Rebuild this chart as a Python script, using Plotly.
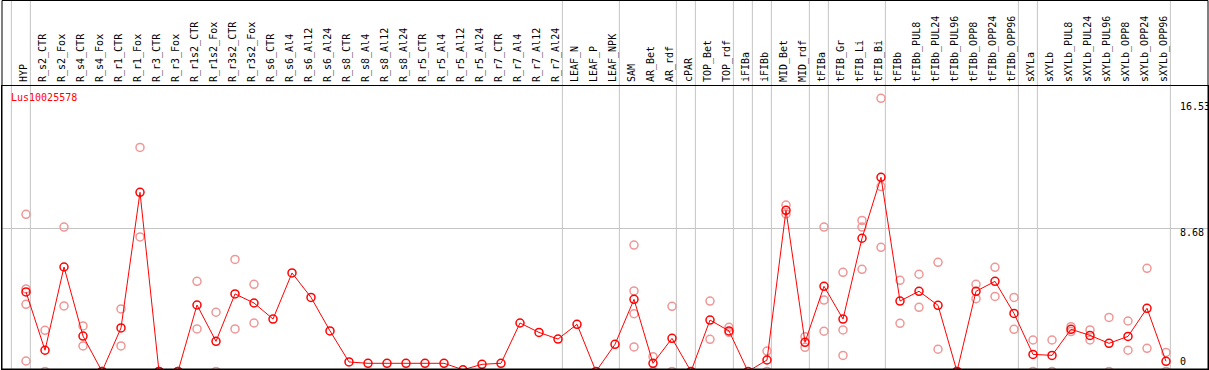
import plotly.graph_objects as go

title = "Lus10025578"

groups = [
    ["HYP"],
    ["R_s2_CTR", "R_s2_Fox", "R_s4_CTR", "R_s4_Fox", "R_r1_CTR", "R_r1_Fox",
     "R_r3_CTR", "R_r3_Fox", "R_r1s2_CTR", "R_r1s2_Fox", "R_r3s2_CTR", "R_r3s2_Fox",
     "R_s6_CTR", "R_s6_Al4", "R_s6_Al12", "R_s6_Al24", "R_s8_CTR", "R_s8_Al4",
     "R_s8_Al12", "R_s8_Al24", "R_r5_CTR", "R_r5_Al4", "R_r5_Al12", "R_r5_Al24",
     "R_r7_CTR", "R_r7_Al4", "R_r7_Al12", "R_r7_Al24"],
    ["LEAF_N", "LEAF_P", "LEAF_NPK"],
    ["SAM", "AR_Bet", "AR_rdf"],
    ["cPAR"],
    ["TOP_Bet", "TOP_rdf"],
    ["iFIBa"],
    ["iFIBb"],
    ["MID_Bet", "MID_rdf"],
    ["tFIBa"],
    ["tFIB_Gr", "tFIB_Li", "tFIB_Bi"],
    ["tFIBb", "tFIBb_PUL8", "tFIBb_PUL24", "tFIBb_PUL96", "tFIBb_OPP8", "tFIBb_OPP24", "tFIBb_OPP96"],
    ["sXYLa"],
    ["sXYLb", "sXYLb_PUL8", "sXYLb_PUL24", "sXYLb_PUL96", "sXYLb_OPP8", "sXYLb_OPP24", "sXYLb_OPP96"],
]
categories = [c for g in groups for c in g]

means = [
    4.81, 1.28, 6.32, 2.14, 0.0, 2.63, 10.84, 0.0, 0.0, 4.02, 1.82, 4.69, 4.14,
    3.17, 5.96, 4.48, 2.45, 0.57, 0.49, 0.49, 0.49, 0.49, 0.49, 0.1, 0.43,
    0.49, 2.93, 2.36, 1.96,
    2.85, 0.0, 1.64,
    4.36, 0.49, 2.00,
    0.0,
    3.11, 2.45,
    0.0,
    0.69,
    9.75, 1.76,
    5.15,
    3.17, 8.06, 11.75,
    4.26, 4.85, 4.00, 0.0, 4.85, 5.45, 3.51,
    1.03,
    0.97, 2.55, 2.18, 1.70, 2.12, 3.82, 0.61,
]

replicates = [
    [9.51, 4.99, 4.06, 0.63], [2.49, 0.0], [8.74, 3.96], [2.75, 1.54], [0.0, 0.0],
    [3.78, 1.54], [13.56, 8.14], [0.0, 0.0], [0.0, 0.0], [5.45, 2.57], [3.58, 0.0],
    [6.78, 2.57], [5.27, 2.93],
    [], [], [], [], [], [], [], [], [], [], [], [], [], [], [], [],
    [], [], [],
    [7.65, 4.87, 3.49, 1.48], [0.89, 0.0], [3.94, 0.0],
    [],
    [4.26, 1.94], [2.67, 2.36],
    [],
    [1.23, 0.0],
    [10.07, 9.53], [2.10, 1.46],
    [8.74, 4.32, 2.43],
    [6.00, 2.51, 0.97], [9.14, 8.74, 6.18], [16.53, 11.19, 7.51],
    [5.51, 2.91], [5.88, 3.88], [6.60, 1.34], [0.0, 0.0], [5.27, 4.40], [6.30, 4.54], [4.48, 2.55],
    [1.90, 0.0],
    [1.90, 0.0], [2.71, 2.41], [2.51, 1.90], [3.27, 0.0], [3.05, 1.28], [6.24, 1.40], [1.15, 0.0],
]

y_ticks = [0, 8.68, 16.53]

# ---------------- layout constants ----------------
W, H = 1209, 370
ML, MR, MT, MB = 2, 1, 86, 1
plot_w = W - ML - MR
plot_h = H - MT - MB
px_per_cat = 19.0
first_px = 26.0
x0 = -(first_px - ML) / px_per_cat
x1 = x0 + plot_w / px_per_cat
px_per_unit = 16.52
zero_px = 371.4
y_lo = (zero_px - (H - MB)) / px_per_unit
y_hi = (zero_px - MT) / px_per_unit
top_paper = 1 + (MT - 0.5) / plot_h
label_x = (1179 - first_px) / px_per_cat

RED = "#FF0000"
PINK = "rgb(240,150,150)"
GRAY = "#C4C4C4"
FONT = "DejaVu Sans Mono"

xs = list(range(len(categories)))
rx, ry = [], []
for i, reps in enumerate(replicates):
    for v in reps:
        rx.append(i)
        ry.append(v)

fig = go.Figure()
fig.add_trace(go.Scatter(
    x=rx, y=ry, mode="markers",
    marker=dict(symbol="circle-open", size=8, color=PINK, line=dict(width=1.5, color=PINK)),
    showlegend=False, hoverinfo="skip",
))
fig.add_trace(go.Scatter(
    x=xs, y=means, mode="lines+markers",
    line=dict(color=RED, width=1),
    marker=dict(symbol="circle-open", size=8, color=RED, line=dict(width=1.5, color=RED)),
    showlegend=False,
))

# group separator lines
shapes = []
boundaries = [-1]
idx = -1
for g in groups:
    idx += len(g)
    boundaries.append(idx)
for b in boundaries:
    shapes.append(dict(type="line", xref="x", yref="paper", x0=b + 0.23, x1=b + 0.23,
                       y0=0, y1=top_paper + 0.01, line=dict(color=GRAY, width=1), layer="below"))
# outer box
shapes.append(dict(type="rect", xref="paper", yref="paper", x0=0, x1=1, y0=0, y1=top_paper,
                   line=dict(color="black", width=1), fillcolor="rgba(0,0,0,0)"))

annotations = [
    dict(text=title, xref="paper", yref="paper", x=0, y=1, xanchor="left", yanchor="top",
         xshift=7, yshift=-4, showarrow=False, font=dict(family=FONT, size=10, color=RED)),
    dict(text=f"{y_ticks[2]:.2f}", xref="x", yref="y", x=label_x, y=y_ticks[2], xanchor="left",
         yanchor="middle", yshift=-8, showarrow=False, borderpad=0,
         font=dict(family=FONT, size=10, color="black")),
    dict(text=f"{y_ticks[1]:.2f}", xref="x", yref="y", x=label_x, y=y_ticks[1], xanchor="left",
         yanchor="middle", yshift=-4, showarrow=False, borderpad=0,
         font=dict(family=FONT, size=10, color="black")),
    dict(text=f"{y_ticks[0]}", xref="x", yref="paper", x=label_x, y=0, xanchor="left",
         yanchor="bottom", yshift=1, showarrow=False, borderpad=0,
         font=dict(family=FONT, size=10, color="black")),
]

fig.update_layout(
    width=W, height=H,
    margin=dict(l=ML, r=MR, t=MT, b=MB, pad=0, autoexpand=False),
    paper_bgcolor="white", plot_bgcolor="white",
    shapes=shapes, annotations=annotations,
    xaxis=dict(
        range=[x0, x1], side="top", tickmode="array", tickvals=xs, ticktext=categories,
        tickangle=-90, tickfont=dict(family=FONT, size=10, color="black"),
        showgrid=False, zeroline=False, ticks="", showline=True, linecolor="black",
        linewidth=1, mirror=True, ticklabelstandoff=1, ticklabelshift=-2, automargin=False,
    ),
    yaxis=dict(
        range=[y_lo, y_hi], tickmode="array", tickvals=[y_ticks[1]], showticklabels=False,
        showgrid=True, gridcolor=GRAY, gridwidth=1, zeroline=False, ticks="",
        showline=True, linecolor="black", linewidth=1, mirror=True, automargin=False,
    ),
    font=dict(family=FONT, size=10),
)

fig.write_html(
    "out.html",
    config={"displayModeBar": False},
    post_script="document.body.style.margin='0';document.body.style.padding='0';document.documentElement.style.overflow='hidden';",
)
